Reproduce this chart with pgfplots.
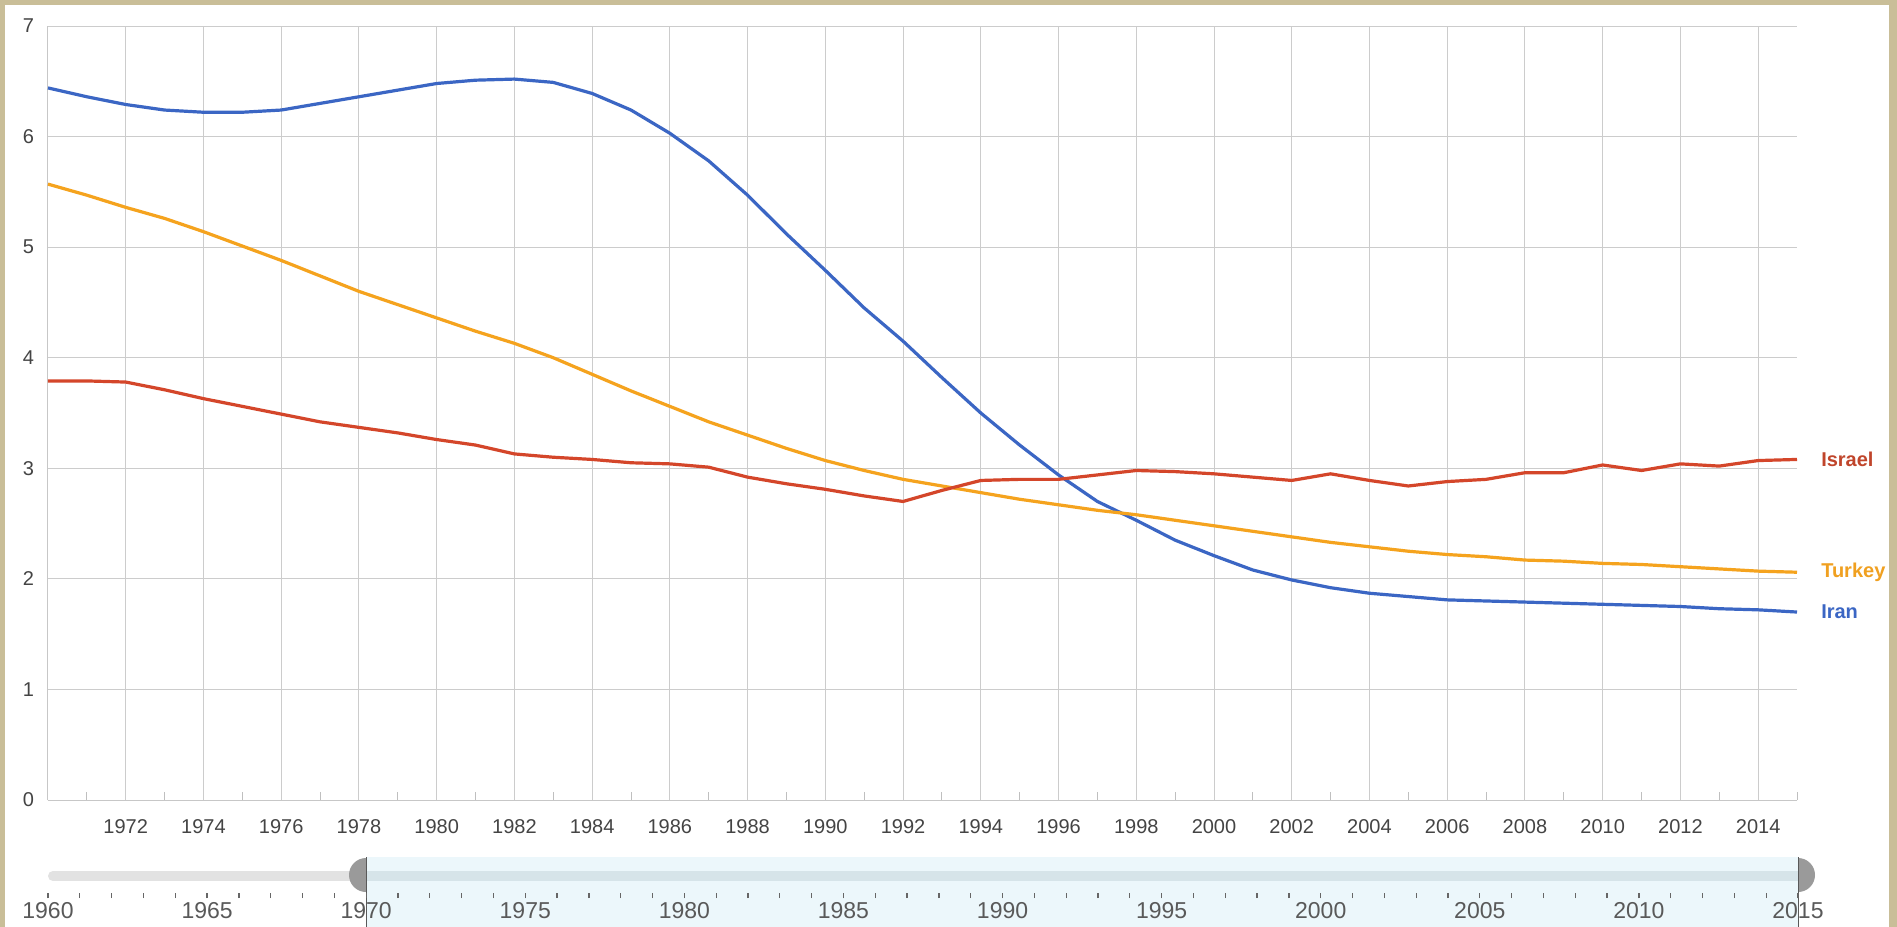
\documentclass[border=0pt]{standalone}
\usepackage{fontspec}
\setmainfont{Liberation Sans}
\usepackage{pgfplots}
\pgfplotsset{compat=1.18}
\definecolor{tanbg}{RGB}{201,190,152}
\definecolor{iranc}{RGB}{59,102,196}
\definecolor{israelc}{RGB}{212,70,42}
\definecolor{turkeyc}{RGB}{245,163,30}
\definecolor{israellab}{RGB}{192,69,43}
\definecolor{turkeylab}{RGB}{240,160,32}
\definecolor{selblue}{RGB}{236,247,251}
\definecolor{tracksel}{RGB}{214,228,233}
\definecolor{trackgray}{RGB}{226,226,226}
\definecolor{handle}{RGB}{154,154,154}
\definecolor{labgray}{RGB}{68,68,68}

\pgfplotstableread{
year iran turkey israel
1970 6.44 5.57 3.79
1971 6.36 5.47 3.79
1972 6.29 5.36 3.78
1973 6.24 5.26 3.71
1974 6.22 5.14 3.63
1975 6.22 5.01 3.56
1976 6.24 4.88 3.49
1977 6.30 4.74 3.42
1978 6.36 4.60 3.37
1979 6.42 4.48 3.32
1980 6.48 4.36 3.26
1981 6.51 4.24 3.21
1982 6.52 4.13 3.13
1983 6.49 4.00 3.10
1984 6.39 3.85 3.08
1985 6.24 3.70 3.05
1986 6.03 3.56 3.04
1987 5.78 3.42 3.01
1988 5.47 3.30 2.92
1989 5.12 3.18 2.86
1990 4.79 3.07 2.81
1991 4.45 2.98 2.75
1992 4.15 2.90 2.70
1993 3.82 2.84 2.80
1994 3.50 2.78 2.89
1995 3.21 2.72 2.90
1996 2.94 2.67 2.90
1997 2.70 2.62 2.94
1998 2.53 2.58 2.98
1999 2.35 2.53 2.97
2000 2.21 2.48 2.95
2001 2.08 2.43 2.92
2002 1.99 2.38 2.89
2003 1.92 2.33 2.95
2004 1.87 2.29 2.89
2005 1.84 2.25 2.84
2006 1.81 2.22 2.88
2007 1.80 2.20 2.90
2008 1.79 2.17 2.96
2009 1.78 2.16 2.96
2010 1.77 2.14 3.03
2011 1.76 2.13 2.98
2012 1.75 2.11 3.04
2013 1.73 2.09 3.02
2014 1.72 2.07 3.07
2015 1.70 2.06 3.08
}\datatable

\begin{document}
\begin{tikzpicture}
\begin{scope}[x=0.5pt,y=-0.5pt]
\useasboundingbox (0,0) rectangle (1897,927);
\fill[tanbg] (0,0) rectangle (1897,927);
\fill[white] (5,5) rectangle (1889,927);
% slider decoration
\fill[selblue] (366,857) rectangle (1798,927);
\draw[trackgray, line width=5pt, line cap=round] (53,876) -- (1798,876);
\fill[tracksel] (366,871) rectangle (1798,881);
\fill[handle] (366,892) arc[start angle=90,end angle=270,radius=17] -- cycle;
\fill[handle] (1798,892) arc[start angle=90,end angle=-90,radius=17] -- cycle;
\draw[black!65, line width=0.5pt] (366,857) -- (366,927);
\draw[black!65, line width=0.5pt] (1798,857) -- (1798,927);
\end{scope}

\begin{axis}[
  at={(24pt,-400pt)}, anchor=south west,
  scale only axis, width=874.5pt, height=387pt,
  xmin=1970, xmax=2015, ymin=0, ymax=7,
  enlargelimits=false, clip=false,
  axis x line*=bottom, axis y line*=left,
  axis line style={-, draw=black!22, line width=0.5pt},
  xtick={1972,1974,...,2014},
  minor xtick={1971,1973,...,2015},
  ytick={0,1,...,7},
  grid=major,
  major grid style={draw=black!20, line width=0.5pt},
  minor grid style={draw=none},
  major tick length=0pt,
  minor tick length=4pt,
  xtick align=inside,
  tick style={draw=black!25, line width=0.5pt},
  /pgf/number format/1000 sep={},
  /pgf/number format/assume math mode=true,
  ticklabel style={font=\fontsize{10}{12}\selectfont, text=labgray},
  xticklabel style={yshift=-6pt},
  yticklabel style={xshift=-3.5pt},
]
\addplot[draw=iranc, line width=1.6pt, line join=round] table[x=year,y=iran] {\datatable}
  node[pos=1, anchor=west, xshift=8pt, text=iranc, font=\bfseries\fontsize{10}{12}\selectfont] {Iran};
\addplot[draw=turkeyc, line width=1.6pt, line join=round] table[x=year,y=turkey] {\datatable}
  node[pos=1, anchor=west, xshift=8pt, text=turkeylab, font=\bfseries\fontsize{10}{12}\selectfont] {Turkey};
\addplot[draw=israelc, line width=1.6pt, line join=round] table[x=year,y=israel] {\datatable}
  node[pos=1, anchor=west, xshift=8pt, text=israellab, font=\bfseries\fontsize{10}{12}\selectfont] {Israel};
\end{axis}

\begin{axis}[
  at={(24pt,-449pt)}, anchor=south west,
  scale only axis, width=875pt, height=2.5pt,
  xmin=1960, xmax=2015, ymin=0, ymax=1,
  enlargelimits=false,
  axis x line*=bottom, axis y line=none,
  x axis line style={draw=none},
  xtick={1960,1965,...,2015},
  minor xtick={1960,1961,...,2015},
  ytick=\empty,
  xtick align=inside,
  major tick length=2.5pt, minor tick length=2.5pt,
  tick style={draw=black!60, line width=0.6pt},
  /pgf/number format/1000 sep={},
  /pgf/number format/assume math mode=true,
  xticklabel style={font=\fontsize{11.5}{13}\selectfont, text=black!65, yshift=1.5pt},
]
\addplot[draw=none] coordinates {(1960,0) (2015,0)};
\end{axis}
\end{tikzpicture}
\end{document}
